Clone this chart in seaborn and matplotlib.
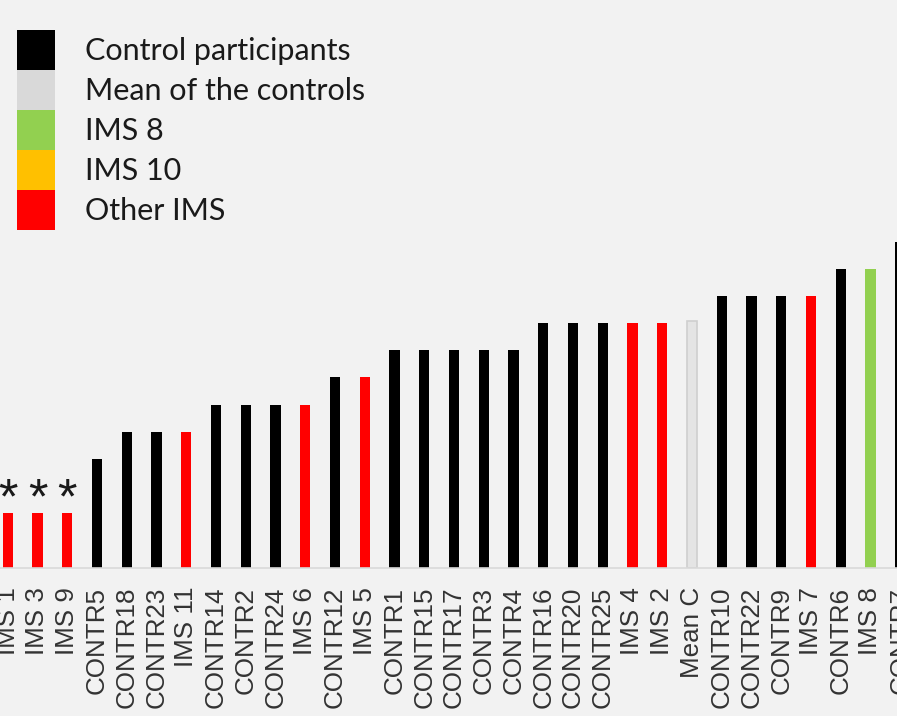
import matplotlib
matplotlib.use("Agg")
import matplotlib.pyplot as plt
from matplotlib.patches import Patch
import seaborn as sns
import pandas as pd

# Participants, sorted by score
participants = [
    "IMS 1", "IMS 3", "IMS 9", "CONTR5", "CONTR18", "CONTR23", "IMS 11",
    "CONTR14", "CONTR2", "CONTR24", "IMS 6", "CONTR12", "IMS 5", "CONTR1",
    "CONTR15", "CONTR17", "CONTR3", "CONTR4", "CONTR16", "CONTR20", "CONTR25",
    "IMS 4", "IMS 2", "Mean C", "CONTR10", "CONTR22", "CONTR9", "IMS 7",
    "CONTR6", "IMS 8", "CONTR7",
]
scores = [
    2, 2, 2, 4, 5, 5, 5,
    6, 6, 6, 6, 7, 7, 8,
    8, 8, 8, 8, 9, 9, 9,
    9, 9, 9.08, 10, 10, 10, 10,
    11, 11, 12,
]
groups = [
    "Other IMS", "Other IMS", "Other IMS", "Control participants",
    "Control participants", "Control participants", "Other IMS",
    "Control participants", "Control participants", "Control participants",
    "Other IMS", "Control participants", "Other IMS", "Control participants",
    "Control participants", "Control participants", "Control participants",
    "Control participants", "Control participants", "Control participants",
    "Control participants", "Other IMS", "Other IMS", "Mean of the controls",
    "Control participants", "Control participants", "Control participants",
    "Other IMS", "Control participants", "IMS 8", "Control participants",
]
significant = ["IMS 1", "IMS 3", "IMS 9"]

legend_labels = ["Control participants", "Mean of the controls", "IMS 8",
                 "IMS 10", "Other IMS"]
legend_colors = ["#000000", "#d9d9d9", "#92d050", "#ffc000", "#ff0000"]
palette = dict(zip(legend_labels, legend_colors))

df = pd.DataFrame({"participant": participants, "score": scores,
                   "group": groups})

BG = "#f2f2f2"
W, H = 897, 716
fig = plt.figure(figsize=(W / 100, H / 100), dpi=100, facecolor=BG)

# the axes run past the right edge of the canvas, so the outer bars are clipped
base_px = 567.5          # baseline, pixels from top
unit_px = 27.15          # pixels per score unit
step_px = 29.75          # pixels between bars
first_px = 7.7           # centre of first bar
x_lo = -first_px / step_px
x_hi = 30.6
ax_w = (x_hi - x_lo) * step_px
ax = fig.add_axes([0, (H - base_px) / H, ax_w / W, base_px / H])
ax.set_facecolor(BG)

sns.barplot(data=df, x="participant", y="score", hue="group",
            palette=palette, dodge=False, width=0.34, saturation=1,
            legend=False, ax=ax, linewidth=0)

# the mean bar gets a faint outline
for p in ax.patches:
    fc = p.get_facecolor()
    if abs(fc[0] - 0xd9 / 255) < 0.01 and abs(fc[1] - 0xd9 / 255) < 0.01:
        p.set_facecolor("#e4e4e4")
        p.set_edgecolor("#cfcfcf")
        p.set_linewidth(1.2)

ax.set_xlim(x_lo, x_hi)
ax.set_ylim(0, base_px / unit_px)

for s in ["top", "right", "left"]:
    ax.spines[s].set_visible(False)
ax.spines["bottom"].set_color("#d9d9d9")
ax.spines["bottom"].set_linewidth(1.2)
ax.set_yticks([])
ax.set_xlabel("")
ax.set_ylabel("")
ax.tick_params(axis="x", length=0, pad=14, labelsize=18.7,
               labelcolor="#333333", rotation=90)
for lbl in ax.get_xticklabels():
    lbl.set_fontfamily("Liberation Sans")

# significance markers
for name in significant:
    i = participants.index(name)
    ax.text(i, scores[i], "*", ha="center", va="baseline",
            fontsize=36, family="Liberation Sans", color="#1a1a1a")

handles = [Patch(facecolor=c, edgecolor="none") for c in legend_colors]
leg = fig.legend(handles, legend_labels, loc="upper left",
                 bbox_to_anchor=(17 / W, 1 - 30 / H), frameon=False,
                 prop={"family": "Lato", "size": 22},
                 handlelength=1.23, handleheight=1.634, labelspacing=0,
                 handletextpad=1.0, borderpad=0, borderaxespad=0)
for t in leg.get_texts():
    t.set_color("#1a1a1a")

fig.savefig("out.png", dpi=100, facecolor=BG)
